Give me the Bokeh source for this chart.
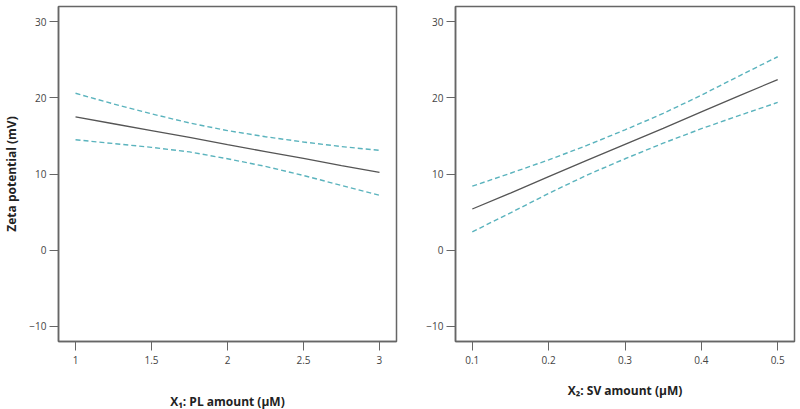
from bokeh.plotting import figure
from bokeh.layouts import row
from bokeh.models import Range1d, FixedTicker
from bokeh.embed import file_html
from bokeh.resources import INLINE

# Left panel: X1 PL amount
pl_x = [1.0, 1.25, 1.5, 1.75, 2.0, 2.25, 2.5, 2.75, 3.0]
pl_mean = [17.5, 16.6, 15.7, 14.8, 13.85, 12.95, 12.05, 11.1, 10.2]
pl_upper = [20.6, 19.2, 17.9, 16.7, 15.7, 14.9, 14.2, 13.6, 13.1]
pl_lower = [14.5, 14.0, 13.5, 12.9, 12.0, 11.0, 9.8, 8.5, 7.2]

# Right panel: X2 SV amount
sv_x = [0.1, 0.15, 0.2, 0.25, 0.3, 0.35, 0.4, 0.45, 0.5]
sv_mean = [5.4, 7.5, 9.65, 11.8, 13.9, 16.0, 18.15, 20.3, 22.4]
sv_upper = [8.4, 10.1, 11.85, 13.75, 15.8, 17.95, 20.35, 22.9, 25.4]
sv_lower = [2.4, 4.9, 7.45, 9.85, 12.0, 14.05, 15.95, 17.7, 19.4]

y_ticks = [-10, 0, 10, 20, 30]
pl_ticks = [1, 1.5, 2, 2.5, 3]
pl_tick_labels = ["1", "1.5", "2", "2.5", "3"]
sv_ticks = [0.1, 0.2, 0.3, 0.4, 0.5]
sv_tick_labels = ["0.1", "0.2", "0.3", "0.4", "0.5"]

y_label = "Zeta potential (mV)"
pl_label = "X\u2081: PL amount (\u03bcM)"
sv_label = "X\u2082: SV amount (\u03bcM)"

MEAN_COLOR = "#555555"
CI_COLOR = "#5ab3bd"
FONT = "Open Sans"


def make_fig(width, bl, br, xr, xt, xtl, xs, mean, up, lo, xlabel, ylabel, xls):
    p = figure(width=width, height=412, output_backend="svg", toolbar_location=None,
               x_range=Range1d(*xr), y_range=Range1d(-12, 32),
               min_border_left=bl, min_border_right=br, min_border_top=6,
               min_border_bottom=70)
    p.background_fill_color = "white"
    p.border_fill_color = "white"
    p.outline_line_color = "#666666"
    p.outline_line_width = 1.5
    p.xgrid.visible = False
    p.ygrid.visible = False
    for ax in (p.xaxis[0], p.yaxis[0]):
        ax.axis_line_color = "#666666"
        ax.axis_line_width = 1.5
        ax.major_tick_in = 0
        ax.major_tick_out = 9
        ax.major_tick_line_color = "#666666"
        ax.minor_tick_line_color = None
        ax.major_label_text_font = FONT
        ax.major_label_text_font_size = "10px"
        ax.major_label_text_color = "#444444"
        ax.axis_label_text_font = FONT
        ax.axis_label_text_font_style = "bold"
        ax.axis_label_text_color = "#222222"
    p.yaxis.ticker = FixedTicker(ticks=y_ticks)
    p.yaxis.major_label_standoff = 3
    p.xaxis.ticker = FixedTicker(ticks=xt)
    p.xaxis.major_label_overrides = {t: l for t, l in zip(xt, xtl)}
    p.xaxis.major_label_standoff = 5
    p.xaxis.axis_label = xlabel
    p.xaxis.axis_label_text_font_size = "12px"
    p.xaxis.axis_label_standoff = xls
    if ylabel:
        p.yaxis.axis_label = ylabel
        p.yaxis.axis_label_text_font_size = "12px"
        p.yaxis.axis_label_standoff = 6
    p.line(xs, up, line_color=CI_COLOR, line_width=1.4, line_dash="5 3")
    p.line(xs, lo, line_color=CI_COLOR, line_width=1.4, line_dash="5 3")
    p.line(xs, mean, line_color=MEAN_COLOR, line_width=1.3)
    return p


p1 = make_fig(398, 58, 2, (0.888, 3.112), pl_ticks, pl_tick_labels, pl_x,
              pl_mean, pl_upper, pl_lower, pl_label, y_label, 26)
p2 = make_fig(398, 57, 2, (0.078, 0.522), sv_ticks, sv_tick_labels, sv_x,
              sv_mean, sv_upper, sv_lower, sv_label, None, 15)

p = row(p1, p2)
open("out.html", "w").write(file_html(p, INLINE))
